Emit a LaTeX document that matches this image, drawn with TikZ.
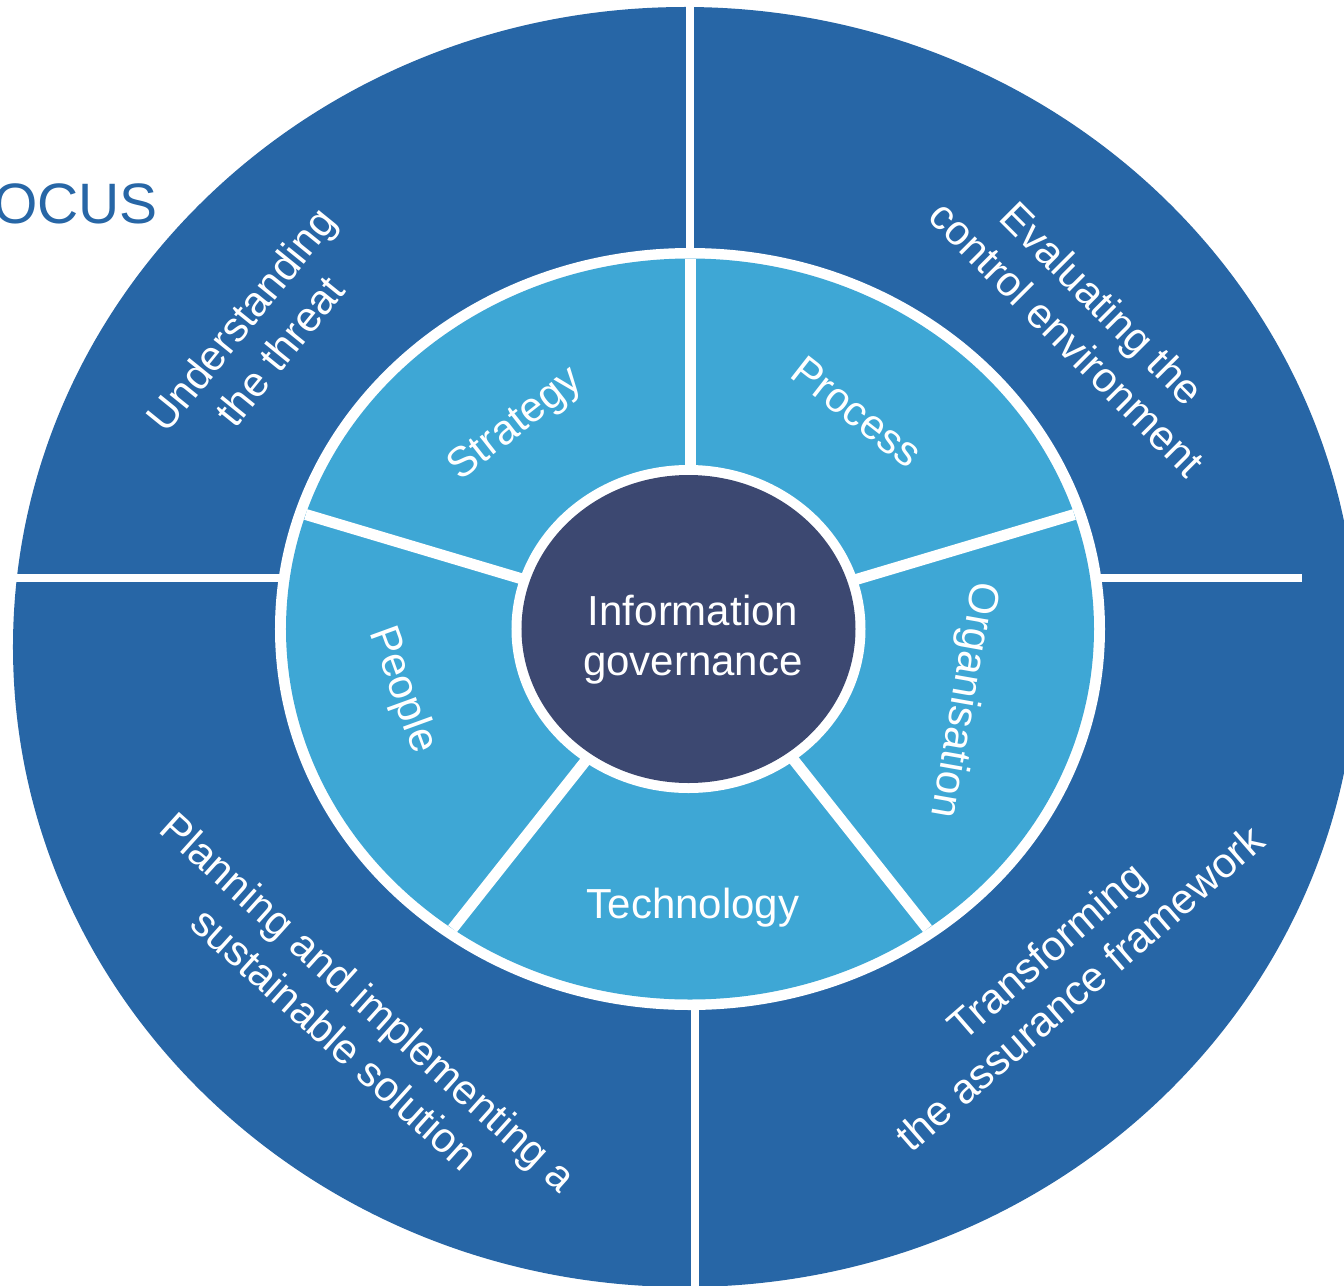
\documentclass[tikz,border=0pt]{standalone}
\usepackage{fontspec}
\setmainfont{Liberation Sans}
\definecolor{outerblue}{RGB}{39,102,166}
\definecolor{ringblue}{RGB}{62,167,213}
\definecolor{corenavy}{RGB}{60,72,113}

\begin{document}
\begin{tikzpicture}[x=1bp, y=1bp,
    lbl/.style={text=white, align=center, inner sep=0pt,
        font=\fontsize{42bp}{50bp}\selectfont},
    gap/.style={white, line width=8bp}]
\clip (-690,-656) rectangle (654,629);
\fill[white] (-690,-656) rectangle (654,629);
% outer ring, four quarters split by white gaps
\fill[outerblue] (-5,-18) ellipse [x radius=672, y radius=640];
\draw[gap] (0,640) -- (0,200);
\draw[gap] (5,-670) -- (5,-200);
\draw[gap] (-700,51) -- (-300,51);
\draw[gap] (300,51) -- (612,51);
% middle ring with five sectors
\fill[white] (0,0) ellipse [x radius=415, y radius=381];
\fill[ringblue] (0,0) ellipse [x radius=404, y radius=370.5];
\foreach \a in {90,18,-54,-126,162}
    \draw[white, line width=11bp] (0,0) -- ({404*cos(\a)},{370.5*sin(\a)});
% core
\fill[white] (-1.5,0) ellipse [x radius=177, y radius=164];
\fill[corenavy] (-1.5,0) ellipse [x radius=167, y radius=154];
\node[lbl] (core) at (3,-11) {Information\\governance};
\node[lbl, rotate=38] (strategy) at (-174,204) {Strategy};
\node[lbl, rotate=-38] (process) at (167,217) {Process};
\node[lbl, rotate=-100] (organisation) at (273,-71) {Organisation};
\node[lbl] (technology) at (3,-279) {Technology};
\node[lbl, rotate=-70] (people) at (-288,-61) {People};
% outer labels
\node[lbl, rotate=51] (threat) at (-430,294) {Understanding\\the threat};
\node[lbl, rotate=-45] (control) at (395,308) {Evaluating the\\control environment};
\node[lbl, rotate=-42] (solution) at (-338,-391) {Planning and implementing a\\sustainable solution};
\node[lbl, rotate=41] (framework) at (373,-340) {Transforming\\the assurance framework};
\node[text=outerblue, anchor=base east, inner sep=0pt,
    font=\fontsize{57bp}{60bp}\selectfont] (focus) at (-532,406) {OCUS};
\end{tikzpicture}
\end{document}
